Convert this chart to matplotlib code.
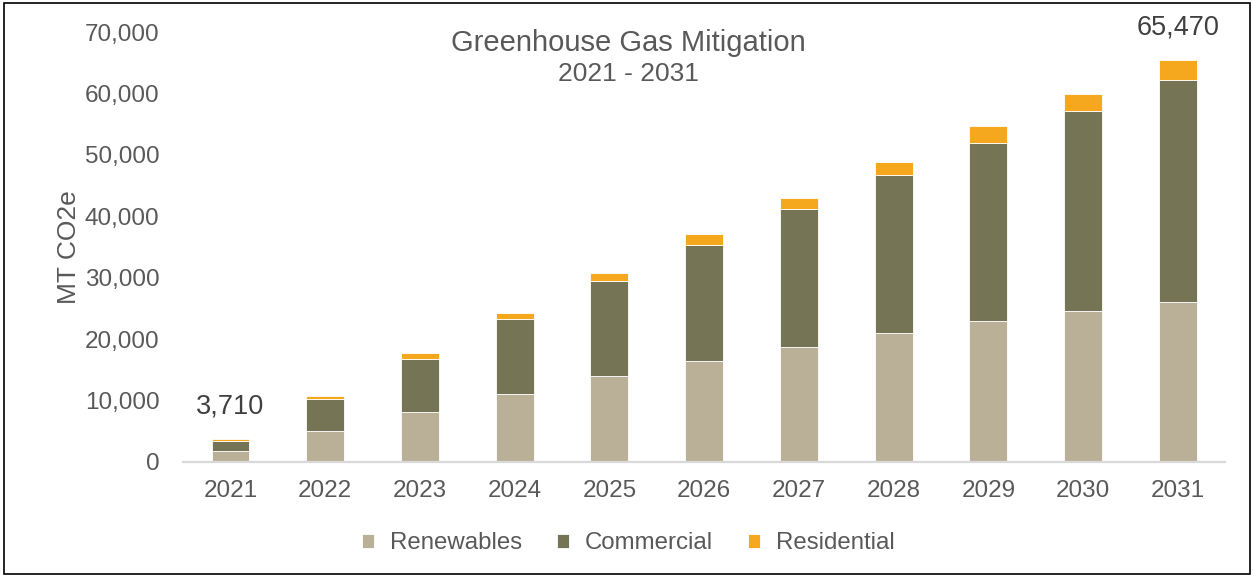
import matplotlib.pyplot as plt
from matplotlib.patches import Rectangle
from matplotlib.ticker import FuncFormatter
import numpy as np

plt.rcParams['font.family'] = ['Liberation Sans', 'DejaVu Sans']

years = ['2021', '2022', '2023', '2024', '2025', '2026', '2027', '2028', '2029', '2030', '2031']
renewables = [1760, 4970, 8100, 11000, 13900, 16400, 18750, 20900, 22900, 24500, 26100]
commercial = [1580, 5200, 8600, 12200, 15500, 19000, 22400, 25800, 29100, 32600, 36050]
residential = [370, 540, 950, 1100, 1400, 1650, 1900, 2200, 2650, 2850, 3320]

c_ren = '#BAB098'
c_com = '#757455'
c_res = '#F5A81E'
grey = '#595959'

fig = plt.figure(figsize=(12.54, 5.75), dpi=100)
ax = fig.add_axes([0.146, 0.197, 0.831, 0.747])

x = np.arange(len(years))
ren = np.array(renewables)
com = np.array(commercial)
res = np.array(residential)
w = 0.4

ax.bar(x, ren, w, color=c_ren, edgecolor='white', linewidth=0.6, label='Renewables')
ax.bar(x, com, w, bottom=ren, color=c_com, edgecolor='white', linewidth=0.6, label='Commercial')
ax.bar(x, res, w, bottom=ren + com, color=c_res, edgecolor='white', linewidth=0.6, label='Residential')

# totals on the first and last bar
total = ren + com + res
for i in (0, len(years) - 1):
    ax.annotate(f'{total[i]:,}', (x[i], total[i]), xytext=(0, 14), textcoords='offset points',
                ha='center', va='bottom', fontsize=19.5, color='#404040')

ax.set_xlim(-0.5, len(years) - 0.5)
ax.set_ylim(0, 70000)
ax.set_yticks(range(0, 70001, 10000))
ax.yaxis.set_major_formatter(FuncFormatter(lambda v, p: f'{int(v):,}'))
ax.set_xticks(x)
ax.set_xticklabels(years)
ax.tick_params(axis='both', length=0, labelsize=17.5, labelcolor=grey)
ax.tick_params(axis='x', pad=13)
ax.tick_params(axis='y', pad=17)

for s in ('top', 'right', 'left'):
    ax.spines[s].set_visible(False)
ax.spines['bottom'].set_color('#D9D9D9')
ax.spines['bottom'].set_linewidth(1.6)

ax.set_ylabel('MT CO2e', fontsize=19, color=grey, labelpad=3)

fig.text(0.501, 0.926, 'Greenhouse Gas Mitigation', ha='center', va='center', fontsize=21, color=grey)
fig.text(0.501, 0.871, '2021 - 2031', ha='center', va='center', fontsize=19, color=grey)

fig.legend(loc='center', bbox_to_anchor=(0.501, 0.055), ncol=3, frameon=False, fontsize=17.3,
           handlelength=0.5, handleheight=0.5, handletextpad=0.67, columnspacing=1.45,
           labelcolor=grey)

fig.patches.append(Rectangle((0.003, 0.002), 0.994, 0.993, transform=fig.transFigure,
                             fill=False, edgecolor='black', linewidth=1.2))

fig.savefig('out.png', dpi=100)
